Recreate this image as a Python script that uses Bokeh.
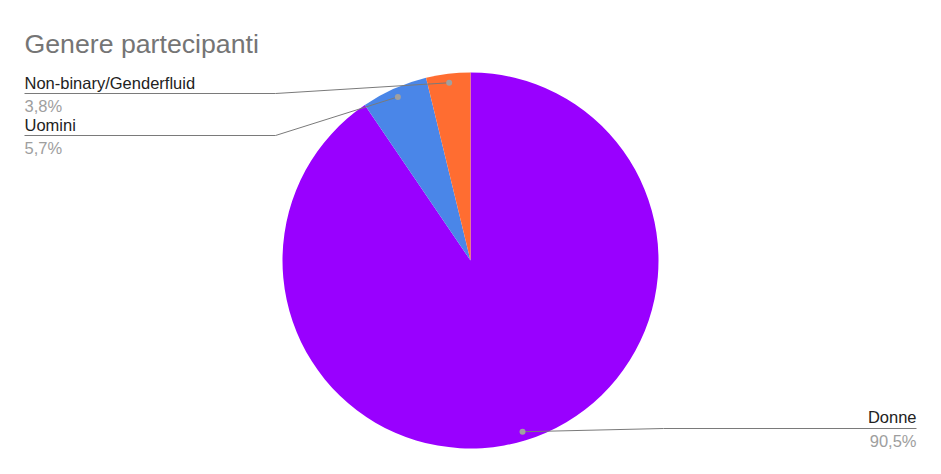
import math
from bokeh.plotting import figure
from bokeh.models import Range1d
from bokeh.core.properties import value
from bokeh.embed import file_html
from bokeh.resources import INLINE

# ---- data ----
categories = ["Donne", "Uomini", "Non-binary/Genderfluid"]
shares = [90.5, 5.7, 3.8]
pct_labels = ["90,5%", "5,7%", "3,8%"]
colors = ["#9900ff", "#4a86e8", "#ff6d31"]
title = "Genere partecipanti"

W, H = 925, 458
FONT = "Liberation Sans"

p = figure(width=W, height=H, output_backend="svg", toolbar_location=None,
           x_range=Range1d(0, W), y_range=Range1d(474 - H, 474),
           min_border=0)
p.axis.visible = False
p.grid.visible = False
p.outline_line_color = None
p.background_fill_color = "white"


def sy(y):
    return 474 - y


cx, cy, R = 470, sy(260), 188
total = sum(shares)
cum = 0.0
starts, ends, mids = [], [], []
for s in shares:
    a0 = math.pi / 2 - cum / total * 2 * math.pi
    cum += s
    a1 = math.pi / 2 - cum / total * 2 * math.pi
    starts.append(a0)
    ends.append(a1)
    mids.append((a0 + a1) / 2)

p.wedge(x=[cx] * 3, y=[cy] * 3, radius=R, start_angle=starts, end_angle=ends,
        direction="clock", fill_color=colors, line_color=None)

# leader anchors (the large slice's anchor is placed off-centre as in the source)
anchor_ang = [math.radians(-73.1), mids[1], mids[2]]
rd = 179
layout = [
    dict(side="right", ex=663, ly=428, tx=916, lab_y=416, pct_y=440),
    dict(side="left", ex=275, ly=135, tx=24, lab_y=124, pct_y=147),
    dict(side="left", ex=275, ly=93, tx=24, lab_y=82, pct_y=105),
]

for i, cat in enumerate(categories):
    L = layout[i]
    dx = cx + rd * math.cos(anchor_ang[i])
    dy = cy + rd * math.sin(anchor_ang[i])
    p.line([dx, L["ex"], L["tx"]], [dy, sy(L["ly"]), sy(L["ly"])],
           line_color="#7a7a7a", line_width=1)
    p.scatter([dx], [dy], size=6, fill_color="#a0a0a0", line_color=None)
    align = "right" if L["side"] == "right" else "left"
    p.text(x=[L["tx"]], y=[sy(L["lab_y"])], text=[cat], text_font=value(FONT),
           text_font_size="16.5px", text_color="#222222", text_align=align,
           text_baseline="alphabetic")
    p.text(x=[L["tx"]], y=[sy(L["pct_y"])], text=[pct_labels[i]], text_font=value(FONT),
           text_font_size="16.5px", text_color="#9e9e9e", text_align=align,
           text_baseline="alphabetic")

p.text(x=[24], y=[sy(43)], text=[title], text_font=value(FONT),
       text_font_size="26.7px", text_color="#757575", text_align="left",
       text_baseline="alphabetic")

open("out.html", "w").write(file_html(p, INLINE))
